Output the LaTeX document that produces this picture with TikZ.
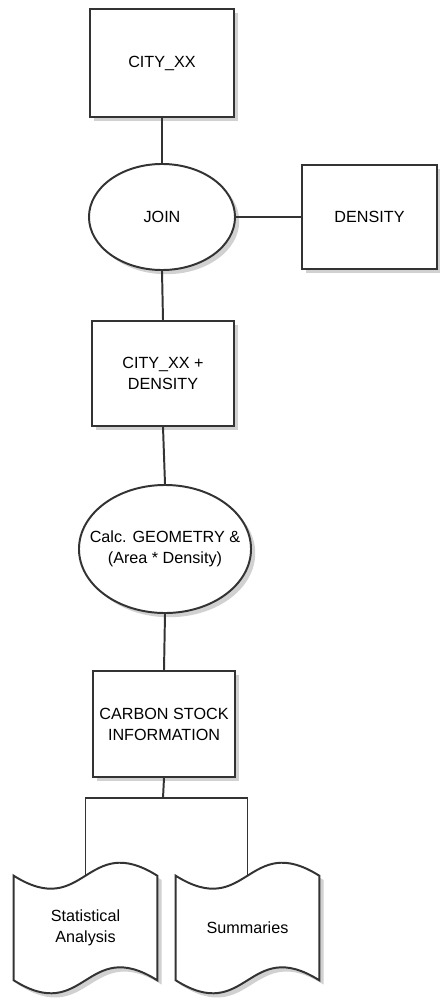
\documentclass[tikz,border=0pt]{standalone}
\usepackage{fontspec}
\setmainfont{Liberation Sans}
\usetikzlibrary{shapes.geometric,shadows,backgrounds}

\tikzset{
  softshadow/.style={drop shadow={shadow xshift=3pt, shadow yshift=-3pt, fill=black!40, opacity=0.45}},
  flow/.style={draw=black!80, line width=1.4pt, fill=white, align=center, inner sep=2pt,
    font=\fontsize{11.5}{15}\selectfont, softshadow},
  databox/.style={flow, rectangle},
  process/.style={flow, ellipse},
  report/.style={rectangle, align=center, inner sep=2pt, font=\fontsize{11.5}{15}\selectfont,
    minimum width=3.575cm, minimum height=2.6cm},
  sheet/.style={draw=black!80, line width=1.4pt, fill=white, softshadow},
  link/.style={draw=black!80, line width=1.4pt}
}

\begin{document}
\begin{tikzpicture}[x=0.025cm, y=-0.025cm]
\useasboundingbox (0,0) rectangle (440,999);

% layers and steps
\node[databox, minimum width=3.6cm, minimum height=2.7cm] (city) at (162,63) {CITY\_XX};
\node[process, minimum width=3.65cm, minimum height=2.65cm] (join) at (162,217) {JOIN};
\node[databox, minimum width=3.375cm, minimum height=2.6cm] (dens) at (369.5,217) {DENSITY};
\node[databox, minimum width=3.55cm, minimum height=2.625cm] (cityd) at (163,373.5) {CITY\_XX +\\DENSITY};
\node[process, minimum width=4.3cm, minimum height=3.2cm,
  label={[font=\fontsize{11.5}{15}\selectfont, align=center]center:Calc. GEOMETRY \&\\(Area * Density)}] (calc) at (165,549) {};
\node[databox, minimum width=3.55cm, minimum height=2.65cm] (carbon) at (164,724) {CARBON STOCK\\INFORMATION};

% outputs (wavy sheets)
\node[report] (stat) at (85.5,928) {Statistical\\Analysis};
\node[report] (summ) at (247.5,928) {Summaries};
\begin{pgfonlayer}{background}
\foreach \doc in {stat,summ}{
  \draw[sheet] (\doc.north west) .. controls +(71.5,45) and +(-71.5,-45) .. (\doc.north east)
    -- (\doc.south east) .. controls +(-71.5,-45) and +(71.5,45) .. (\doc.south west) -- cycle;
}
\end{pgfonlayer}
\coordinate (split) at (163,798);

% connectors
\draw[link] (city.south) -- (join.north);
\draw[link] (join.east) -- (dens.west);
\draw[link] (join.south) -- (cityd.north);
\draw[link] (cityd.south) -- (calc.north);
\draw[link] (calc.south) -- (carbon.north);
\draw[link] (carbon.south) -- (split);
\draw[link] (split) -| (stat.north);
\draw[link] (split) -| (summ.north);
\end{tikzpicture}
\end{document}
